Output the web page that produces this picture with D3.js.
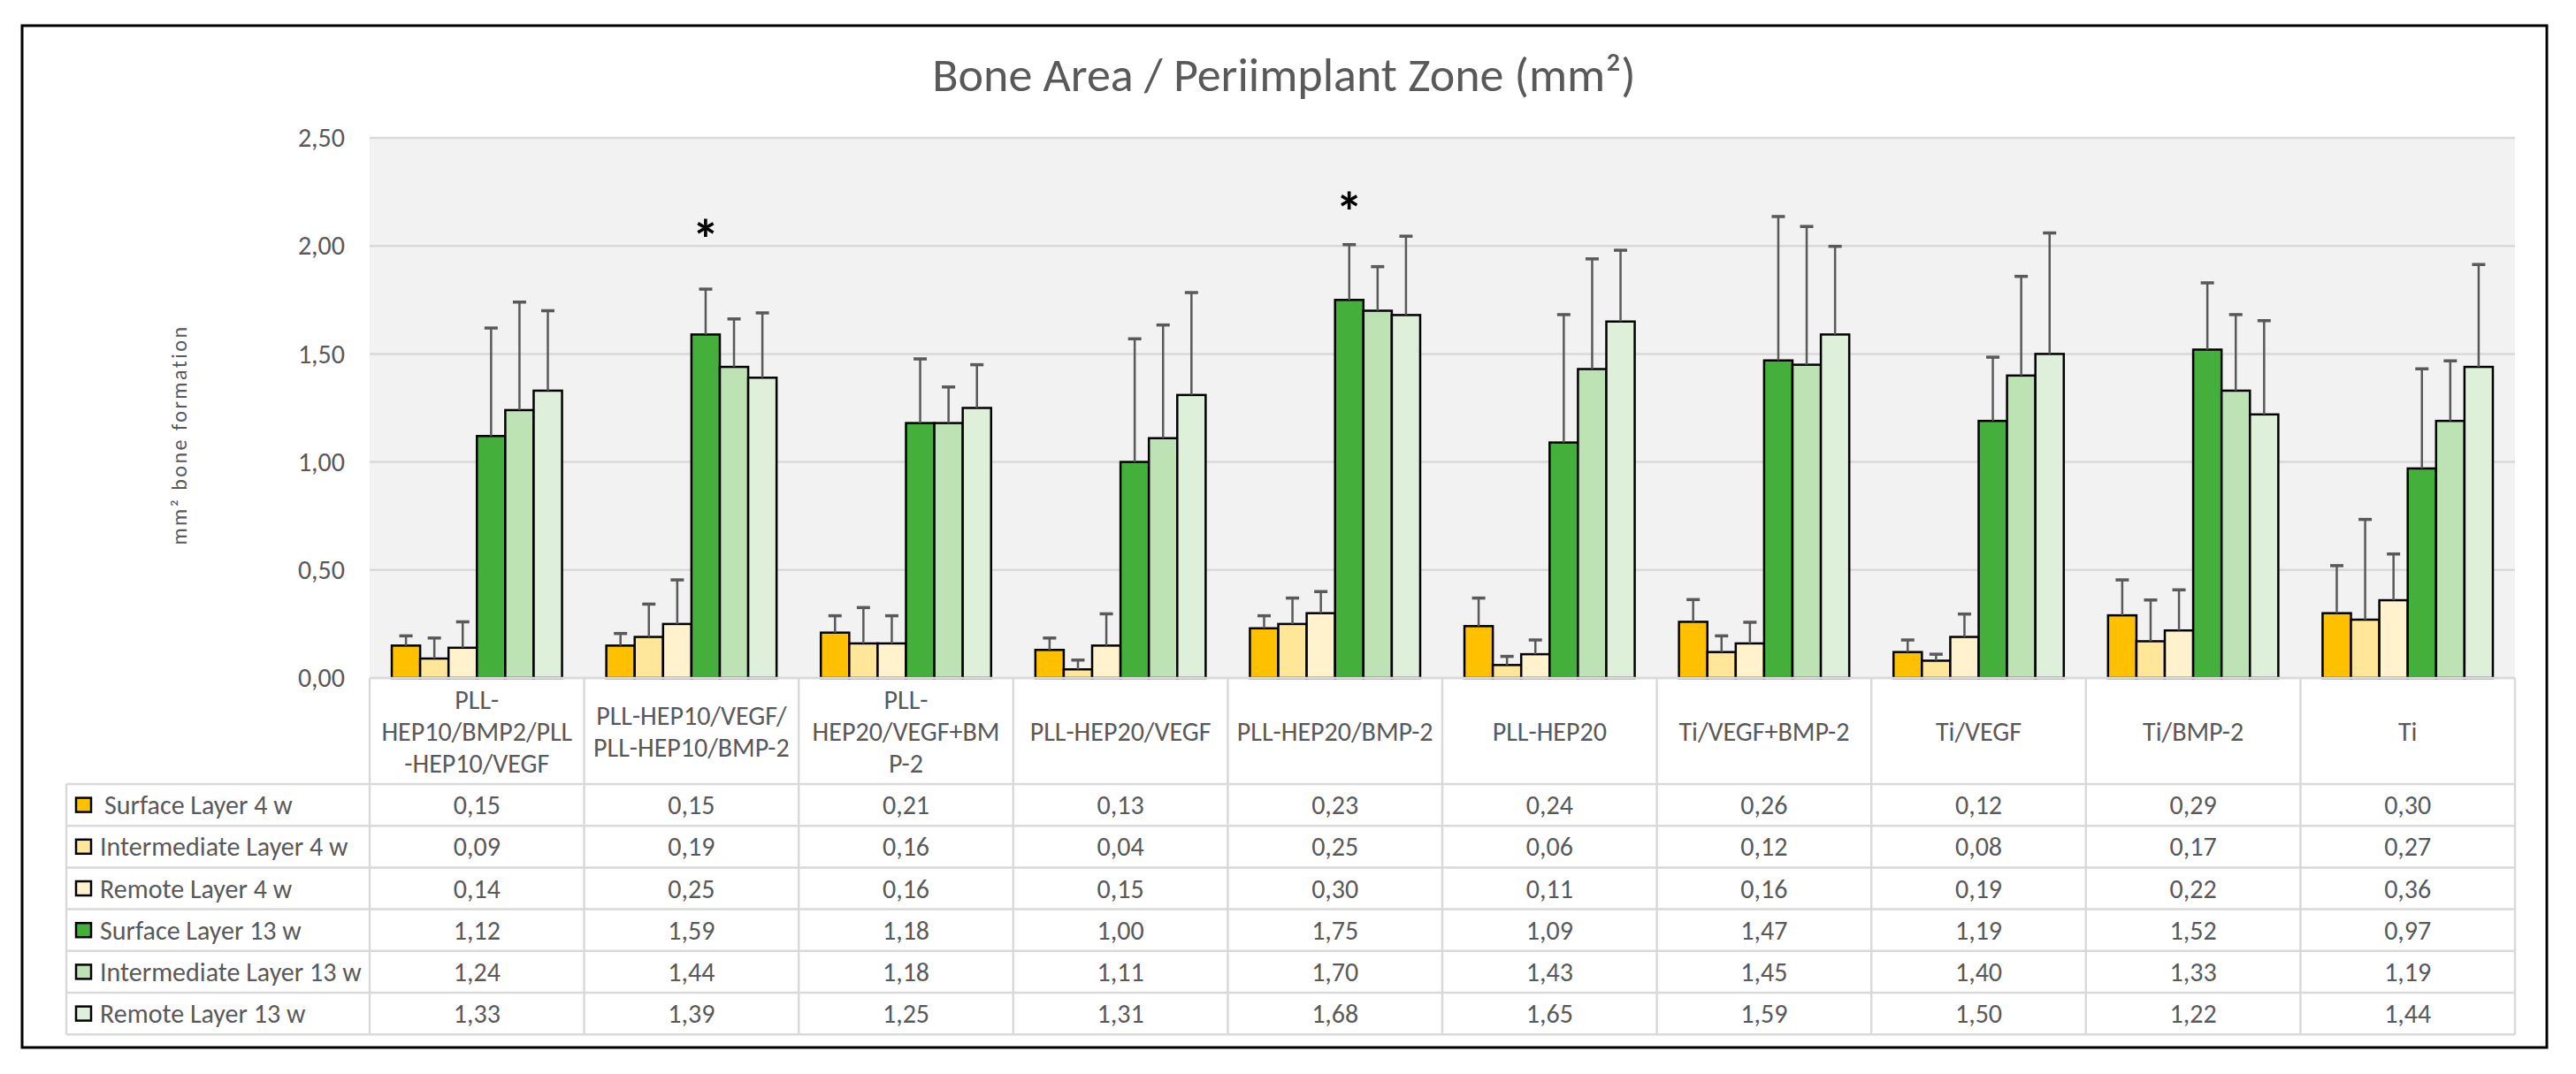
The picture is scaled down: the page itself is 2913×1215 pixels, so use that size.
<!DOCTYPE html>
<html>
<head>
<meta charset="utf-8">
<script src="https://cdn.jsdelivr.net/npm/d3@7"></script>
<style>
  body { margin: 0; background: #fff; }
  text { font-family: Carlito, Calibri, Lato, sans-serif; fill: #595959; }
</style>
</head>
<body>
<div id="chart"></div>
<script>
const width = 2913;
const height = 1215;

// data
const categories = [
  "PLL-\nHEP10/BMP2/PLL\n-HEP10/VEGF",
  "PLL-HEP10/VEGF/\nPLL-HEP10/BMP-2",
  "PLL-\nHEP20/VEGF+BM\nP-2",
  "PLL-HEP20/VEGF",
  "PLL-HEP20/BMP-2",
  "PLL-HEP20",
  "Ti/VEGF+BMP-2",
  "Ti/VEGF",
  "Ti/BMP-2",
  "Ti",
];
const series = [
  "Surface Layer 4 w",
  "Intermediate Layer 4 w",
  "Remote Layer 4 w",
  "Surface Layer 13 w",
  "Intermediate Layer 13 w",
  "Remote Layer 13 w",
];
const surface4 = [0.15, 0.15, 0.21, 0.13, 0.23, 0.24, 0.26, 0.12, 0.29, 0.3];
const intermediate4 = [0.09, 0.19, 0.16, 0.04, 0.25, 0.06, 0.12, 0.08, 0.17, 0.27];
const remote4 = [0.14, 0.25, 0.16, 0.15, 0.3, 0.11, 0.16, 0.19, 0.22, 0.36];
const surface13 = [1.12, 1.59, 1.18, 1.0, 1.75, 1.09, 1.47, 1.19, 1.52, 0.97];
const intermediate13 = [1.24, 1.44, 1.18, 1.11, 1.7, 1.43, 1.45, 1.4, 1.33, 1.19];
const remote13 = [1.33, 1.39, 1.25, 1.31, 1.68, 1.65, 1.59, 1.5, 1.22, 1.44];

// upper error bars (SD)
const surface4Err = [0.045, 0.056, 0.078, 0.055, 0.058, 0.13, 0.103, 0.056, 0.164, 0.22];
const intermediate4Err = [0.095, 0.152, 0.166, 0.043, 0.12, 0.04, 0.075, 0.03, 0.191, 0.464];
const remote4Err = [0.12, 0.204, 0.128, 0.147, 0.1, 0.066, 0.098, 0.106, 0.188, 0.214];
const surface13Err = [0.5, 0.21, 0.297, 0.57, 0.256, 0.592, 0.666, 0.295, 0.309, 0.461];
const intermediate13Err = [0.5, 0.222, 0.167, 0.524, 0.204, 0.51, 0.64, 0.459, 0.352, 0.278];
const remote13Err = [0.37, 0.3, 0.2, 0.474, 0.365, 0.33, 0.408, 0.56, 0.434, 0.474];

// significance marks: category index, series index, value at mark
const marks = [
  { cat: 1, ser: 3, at: 2.08 },
  { cat: 4, ser: 3, at: 2.205 },
];

const colors = ["#FFC000", "#FFE699", "#FFF2CC", "#44AF3B", "#BDE3B5", "#DEF0DA"];
const yTicks = [0, 0.5, 1, 1.5, 2, 2.5];

const values = [surface4, intermediate4, remote4, surface13, intermediate13, remote13];
const errors = [surface4Err, intermediate4Err, remote4Err, surface13Err, intermediate13Err, remote13Err];

// layout
const plot = { left: 418, right: 2844, top: 156, bottom: 767 };
const tbl = { left: 75, header: 887, rowH: 47.2 };
const tblBottom = tbl.header + tbl.rowH * series.length;
const fs = 30;

const fmt = d3
  .formatLocale({ decimal: ",", thousands: ".", grouping: [3], currency: ["", ""] })
  .format(".2f");

const svg = d3
  .select("#chart")
  .append("svg")
  .attr("width", width)
  .attr("height", height);

// outer frame
svg
  .append("rect")
  .attr("x", 25)
  .attr("y", 29)
  .attr("width", 2855)
  .attr("height", 1156)
  .attr("fill", "#fff")
  .attr("stroke", "#000")
  .attr("stroke-width", 3);

svg
  .append("text")
  .attr("x", 1452)
  .attr("y", 103)
  .attr("text-anchor", "middle")
  .style("font-size", "54px")
  .text("Bone Area / Periimplant Zone (mm²)");

const x0 = d3.scaleBand().domain(categories).range([plot.left, plot.right]);
const x1 = d3
  .scaleBand()
  .domain(series)
  .range([0, x0.bandwidth()])
  .paddingOuter(0.78);
const y = d3.scaleLinear().domain([0, 2.5]).range([plot.bottom, plot.top]);

// plot background + grid
svg
  .append("rect")
  .attr("x", plot.left)
  .attr("y", plot.top)
  .attr("width", plot.right - plot.left)
  .attr("height", plot.bottom - plot.top)
  .attr("fill", "#F2F2F2");

svg
  .append("g")
  .selectAll("line")
  .data(yTicks)
  .join("line")
  .attr("x1", plot.left)
  .attr("x2", plot.right)
  .attr("y1", (d) => y(d))
  .attr("y2", (d) => y(d))
  .attr("stroke", "#D9D9D9")
  .attr("stroke-width", 2.5);

// y axis labels
const yAxis = svg
  .append("g")
  .attr("transform", `translate(${plot.left},0)`)
  .call(d3.axisLeft(y).tickValues(yTicks).tickFormat(fmt).tickSize(0).tickPadding(28));
yAxis.select(".domain").remove();
yAxis
  .selectAll("text")
  .style("font-size", fs + "px")
  .style("font-family", null)
  .attr("fill", "#595959");

svg
  .append("text")
  .attr("transform", "translate(211,492) rotate(-90)")
  .attr("text-anchor", "middle")
  .style("font-size", "24px")
  .style("letter-spacing", "2.5px")
  .text("mm² bone formation");

// bars
const bars = categories.flatMap((c, i) =>
  series.map((s, j) => ({ c, s, j, v: values[j][i], e: errors[j][i] }))
);

const barG = svg.append("g");
barG
  .selectAll("rect")
  .data(bars)
  .join("rect")
  .attr("x", (d) => x0(d.c) + x1(d.s))
  .attr("y", (d) => y(d.v))
  .attr("width", x1.bandwidth())
  .attr("height", (d) => y(0) - y(d.v))
  .attr("fill", (d) => colors[d.j])
  .attr("stroke", "#000")
  .attr("stroke-width", 2.5);

// error bars
const errG = svg.append("g").attr("stroke", "#595959");
const cx = (d) => x0(d.c) + x1(d.s) + x1.bandwidth() / 2;
errG
  .selectAll("line.stem")
  .data(bars)
  .join("line")
  .attr("class", "stem")
  .attr("x1", cx)
  .attr("x2", cx)
  .attr("y1", (d) => y(d.v))
  .attr("y2", (d) => y(d.v + d.e))
  .attr("stroke-width", 2.5);
errG
  .selectAll("line.cap")
  .data(bars)
  .join("line")
  .attr("class", "cap")
  .attr("x1", (d) => cx(d) - 7.5)
  .attr("x2", (d) => cx(d) + 7.5)
  .attr("y1", (d) => y(d.v + d.e))
  .attr("y2", (d) => y(d.v + d.e))
  .attr("stroke-width", 3.5);

// significance asterisks
svg
  .append("g")
  .selectAll("text")
  .data(marks)
  .join("text")
  .attr("x", (d) => x0(categories[d.cat]) + x1(series[d.ser]) + x1.bandwidth() / 2)
  .attr("y", (d) => y(d.at) + 34)
  .attr("text-anchor", "middle")
  .style("font-size", "62px")
  .style("font-weight", "bold")
  .style("fill", "#000")
  .text("*");

// data table
const tableG = svg.append("g").attr("stroke", "#D9D9D9").attr("stroke-width", 2.5);
tableG
  .append("line")
  .attr("x1", plot.left)
  .attr("x2", plot.right)
  .attr("y1", plot.bottom)
  .attr("y2", plot.bottom);
tableG
  .selectAll("line.row")
  .data(d3.range(series.length + 1))
  .join("line")
  .attr("class", "row")
  .attr("x1", tbl.left)
  .attr("x2", plot.right)
  .attr("y1", (k) => tbl.header + k * tbl.rowH)
  .attr("y2", (k) => tbl.header + k * tbl.rowH);
tableG
  .selectAll("line.col")
  .data([...categories.map((c) => x0(c)), plot.right])
  .join("line")
  .attr("class", "col")
  .attr("x1", (d) => d)
  .attr("x2", (d) => d)
  .attr("y1", plot.bottom)
  .attr("y2", tblBottom);
tableG
  .append("line")
  .attr("x1", tbl.left)
  .attr("x2", tbl.left)
  .attr("y1", tbl.header)
  .attr("y2", tblBottom);

// category headers
const headerMid = (plot.bottom + tbl.header) / 2;
svg
  .append("g")
  .selectAll("text")
  .data(categories)
  .join("text")
  .attr("x", (c) => x0(c) + x0.bandwidth() / 2)
  .attr("text-anchor", "middle")
  .style("font-size", fs + "px")
  .each(function (c) {
    const lines = c.split("\n");
    d3.select(this)
      .selectAll("tspan")
      .data(lines)
      .join("tspan")
      .attr("x", x0(c) + x0.bandwidth() / 2)
      .attr("y", (l, k) => headerMid + (k - (lines.length - 1) / 2) * 36)
      .attr("dominant-baseline", "central")
      .text((l) => l);
  });

// legend rows
const rowMid = (j) => tbl.header + j * tbl.rowH + tbl.rowH / 2;
const legend = svg
  .append("g")
  .selectAll("g")
  .data(series)
  .join("g");
legend
  .append("rect")
  .attr("x", 86)
  .attr("y", (s, j) => rowMid(j) - 8)
  .attr("width", 17)
  .attr("height", 16)
  .attr("fill", (s, j) => colors[j])
  .attr("stroke", "#000")
  .attr("stroke-width", 2.5);
legend
  .append("text")
  .attr("x", (s, j) => (j === 0 ? 118 : 113))
  .attr("y", (s, j) => rowMid(j))
  .attr("dominant-baseline", "central")
  .style("font-size", fs + "px")
  .text((s) => s);

// cell values
svg
  .append("g")
  .selectAll("text")
  .data(bars)
  .join("text")
  .attr("x", (d) => x0(d.c) + x0.bandwidth() / 2)
  .attr("y", (d) => rowMid(d.j))
  .attr("text-anchor", "middle")
  .attr("dominant-baseline", "central")
  .style("font-size", fs + "px")
  .text((d) => fmt(d.v));
</script>
</body>
</html>
